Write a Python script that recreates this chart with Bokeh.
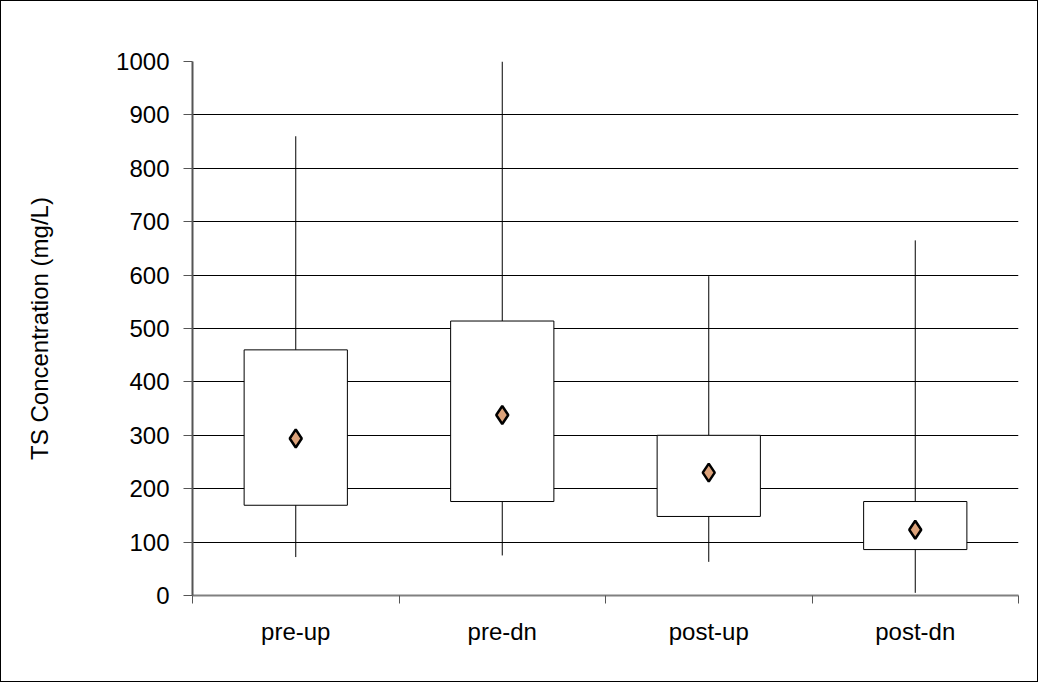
from bokeh.plotting import figure
from bokeh.models import FixedTicker, Range1d, ColumnDataSource
from bokeh.embed import file_html
from bokeh.resources import INLINE

categories = ["pre-up", "pre-dn", "post-up", "post-dn"]
whisker_low = [72, 75, 63, 5]
box_low = [169, 176, 148, 86]
box_high = [460, 514, 300, 176]
whisker_high = [860, 1000, 598, 665]
means = [294, 338, 230, 123]
y_ticks = [0, 100, 200, 300, 400, 500, 600, 700, 800, 900, 1000]

FONT = "Liberation Sans"

xs = [i + 0.5 for i in range(len(categories))]
src = ColumnDataSource(dict(x=xs, wl=whisker_low, bl=box_low, bh=box_high, wh=whisker_high, m=means))

p = figure(width=1038, height=682, output_backend="svg", toolbar_location=None,
           x_range=Range1d(0, len(categories)), y_range=Range1d(0, 1000),
           min_border_left=191, min_border_top=60, min_border_bottom=88, min_border_right=21)
p.styles = {"border": "1px solid black"}
p.outline_line_color = None
p.background_fill_color = "white"
p.border_fill_color = "white"

# grid
p.xgrid.grid_line_color = None
p.ygrid.grid_line_color = "black"
p.ygrid.grid_line_width = 1

# whiskers and boxes
p.segment(x0="x", y0="wl", x1="x", y1="wh", source=src, line_color="black", line_width=1)
p.vbar(x="x", bottom="bl", top="bh", width=0.5, source=src, fill_color="white",
       line_color="black", line_width=1)
p.scatter(x="x", y="m", source=src, marker="diamond", size=18, fill_color="#dca27a",
          line_color="black", line_width=2.5)

# x axis
p.xaxis.ticker = FixedTicker(ticks=xs, minor_ticks=list(range(len(categories) + 1)))
p.xaxis.major_label_overrides = {x: c for x, c in zip(xs, categories)}
p.xaxis.major_tick_out = 0
p.xaxis.major_tick_in = 0
p.xaxis.minor_tick_out = 8
p.xaxis.minor_tick_in = 0
p.xaxis.minor_tick_line_color = "#555555"
p.xaxis.axis_line_color = "#808080"
p.xaxis.axis_line_width = 2
p.xaxis.major_label_standoff = 14
p.xaxis.major_label_text_font = FONT
p.xaxis.major_label_text_font_size = "24px"
p.xaxis.major_label_text_color = "black"

# y axis
p.yaxis.ticker = FixedTicker(ticks=y_ticks)
p.yaxis.minor_tick_line_color = None
p.yaxis.major_tick_out = 9
p.yaxis.major_tick_in = 0
p.yaxis.major_tick_line_color = "#555555"
p.yaxis.axis_line_color = "#555555"
p.yaxis.axis_line_width = 2
p.yaxis.major_label_standoff = 14
p.yaxis.major_label_text_font = FONT
p.yaxis.major_label_text_font_size = "24px"
p.yaxis.major_label_text_color = "black"
p.yaxis.axis_label = "TS Concentration (mg/L)"
p.yaxis.axis_label_text_font = FONT
p.yaxis.axis_label_text_font_size = "24px"
p.yaxis.axis_label_text_font_style = "normal"
p.yaxis.axis_label_text_color = "black"
p.yaxis.axis_label_standoff = 60

open("out.html", "w").write(file_html(p, INLINE))
